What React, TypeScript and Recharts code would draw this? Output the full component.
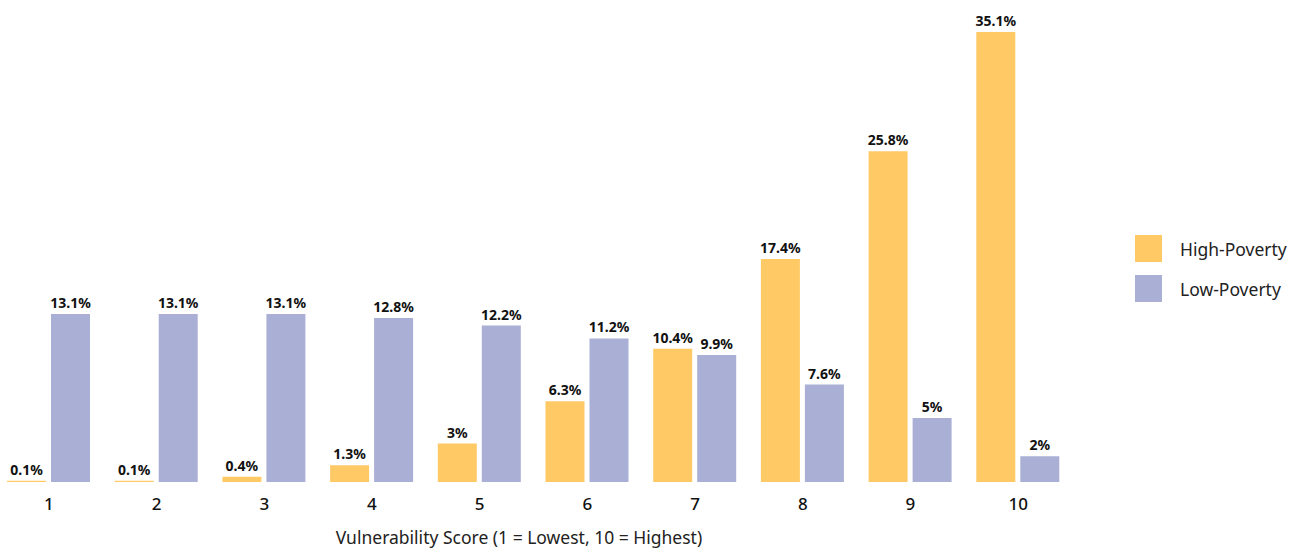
import { BarChart, Bar, XAxis, YAxis, LabelList } from "recharts"

// ── Data ───────────────────────────────────────────────────────────────────

const scores = ["1", "2", "3", "4", "5", "6", "7", "8", "9", "10"]
const highPoverty = [0.1, 0.1, 0.4, 1.3, 3, 6.3, 10.4, 17.4, 25.8, 35.1]
const lowPoverty = [13.1, 13.1, 13.1, 12.8, 12.2, 11.2, 9.9, 7.6, 5, 2]

const COLORS = {
  high: "#ffc966",
  low: "#aaafd6",
  text: "#111111",
}

const FONT = "'Noto Sans', 'Open Sans', sans-serif"

const data = scores.map((s, i) => ({
  score: s,
  high: highPoverty[i],
  low: lowPoverty[i],
}))

const fmt = (v: unknown) => `${v}%`

function LegendBox() {
  const items = [
    { name: "High-Poverty", color: COLORS.high },
    { name: "Low-Poverty", color: COLORS.low },
  ]
  return (
    <div style={{ position: "absolute", left: 1135, top: 235, fontFamily: FONT }}>
      {items.map((it) => (
        <div key={it.name} style={{ display: "flex", alignItems: "center", height: 27, marginBottom: 13 }}>
          <span style={{ width: 27, height: 27, background: it.color, display: "inline-block" }} />
          <span style={{ marginLeft: 18, fontSize: 17.5, color: "#222" }}>{it.name}</span>
        </div>
      ))}
    </div>
  )
}

export default function App() {
  return (
    <div style={{ position: "absolute", left: 0, top: 0, width: 1302, height: 548, overflow: "hidden", background: "#fff" }}>
      <div style={{ position: "absolute", left: -5, top: 0 }}>
        <BarChart
          width={1307}
          height={548}
          data={data}
          margin={{ top: 32, right: 230, left: 0, bottom: 6 }}
          barSize={39}
          barGap={5}
        >
          <XAxis
            dataKey="score"
            axisLine={false}
            tickLine={false}
            height={60}
            tickMargin={10}
            tick={{ fill: COLORS.text, fontSize: 17, fontFamily: FONT, fontWeight: 500 }}
          />
          <YAxis hide domain={[0, 35.1]} />
          <Bar dataKey="high" name="High-Poverty" fill={COLORS.high} isAnimationActive={false}>
            <LabelList
              dataKey="high"
              position="top"
              offset={6}
              formatter={fmt}
              style={{ fill: COLORS.text, fontSize: 14, fontWeight: 700, fontFamily: FONT }}
            />
          </Bar>
          <Bar dataKey="low" name="Low-Poverty" fill={COLORS.low} isAnimationActive={false}>
            <LabelList
              dataKey="low"
              position="top"
              offset={6}
              formatter={fmt}
              style={{ fill: COLORS.text, fontSize: 14, fontWeight: 700, fontFamily: FONT }}
            />
          </Bar>
        </BarChart>
      </div>
      <div
        style={{
          position: "absolute",
          left: 0,
          width: 1038,
          top: 528,
          lineHeight: "19px",
          textAlign: "center",
          fontFamily: FONT,
          fontSize: 17.5,
          color: "#222",
        }}
      >
        Vulnerability Score (1 = Lowest, 10 = Highest)
      </div>
      <LegendBox />
    </div>
  )
}
